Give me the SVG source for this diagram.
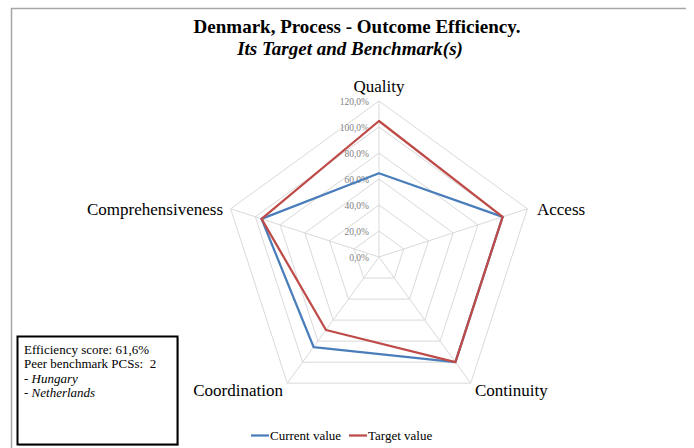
<svg xmlns="http://www.w3.org/2000/svg" width="694" height="448" viewBox="0 0 694 448">
<style>
.t{font-family:"Liberation Serif","Times New Roman",serif;fill:#000}
.grid{fill:none;stroke:#d9d9d9;stroke-width:1}
.tick{font-family:"Liberation Serif","Times New Roman",serif;font-size:9.5px;fill:#7f7f7f;text-anchor:end}
.ax{font-size:17px}
.ser{fill:none;stroke-width:2.25;stroke-linejoin:round}
.cur{stroke:#4a7ebb}
.tar{stroke:#be4b48}
</style>
<rect width="694" height="448" fill="#fff"/>
<path d="M11.5 448 V8.5 H686" fill="none" stroke="#a6a6a6" stroke-width="1.5"/>
<g id="title">
<text class="t" x="357" y="33" font-size="19" font-weight="bold" text-anchor="middle">Denmark, Process - Outcome Efficiency.</text>
<text class="t" x="350" y="55" font-size="19" font-weight="bold" font-style="italic" text-anchor="middle">Its Target and Benchmark(s)</text>
</g>
<g id="grid">
<polygon class="grid" points="379,231 403.73,248.97 394.28,278.03 363.72,278.03 354.27,248.97"/>
<polygon class="grid" points="379,205 428.46,240.93 409.57,299.07 348.43,299.07 329.54,240.93"/>
<polygon class="grid" points="379,179 453.18,232.9 424.85,320.1 333.15,320.1 304.82,232.9"/>
<polygon class="grid" points="379,153 477.91,224.86 440.13,341.14 317.87,341.14 280.09,224.86"/>
<polygon class="grid" points="379,127 502.64,216.83 455.41,362.17 302.59,362.17 255.36,216.83"/>
<polygon class="grid" points="379,101 527.37,208.8 470.7,383.2 287.3,383.2 230.63,208.8"/>
<path class="grid" d="M379 257 L379 101 M379 257 L527.37 208.8 M379 257 L470.7 383.2 M379 257 L287.3 383.2 M379 257 L230.63 208.8"/>
</g>
<g id="ticks">
<text class="tick" x="369" y="105">120,0%</text>
<text class="tick" x="369" y="131">100,0%</text>
<text class="tick" x="369" y="157">80,0%</text>
<text class="tick" x="369" y="183">60,0%</text>
<text class="tick" x="369" y="209">40,0%</text>
<text class="tick" x="369" y="235">20,0%</text>
<text class="tick" x="369" y="261">0,0%</text>
</g>
<g id="axis-labels">
<text id="quality" class="t ax" x="379" y="92" text-anchor="middle">Quality</text>
<text id="access" class="t ax" x="537" y="215">Access</text>
<text id="continuity" class="t ax" x="475" y="396">Continuity</text>
<text id="coordination" class="t ax" x="283" y="396" text-anchor="end">Coordination</text>
<text id="comprehensiveness" class="t ax" x="223" y="215" text-anchor="end">Comprehensiveness</text>
</g>
<g id="series">
<polygon id="current" class="ser cur" points="379,173.3 502.64,216.83 455.41,362.17 313.58,347.04 261.54,218.84"/>
<polygon id="target" class="ser tar" points="379,121 502.64,216.83 455.41,362.17 325.98,329.97 261.54,218.84"/>
</g>
<g id="infobox">
<rect x="19" y="338" width="160" height="108" fill="#bfbfbf"/>
<rect x="17.5" y="336.5" width="160" height="108" fill="#fff" stroke="#000" stroke-width="2"/>
<text class="t" font-size="13" x="24" y="354">Efficiency score: 61,6%</text>
<text class="t" font-size="13" x="24" y="368" xml:space="preserve">Peer benchmark PCSs:  2</text>
<text class="t" font-size="13" x="24" y="383" xml:space="preserve">- <tspan font-style="italic">Hungary</tspan></text>
<text class="t" font-size="13" x="24" y="397" xml:space="preserve">- <tspan font-style="italic">Netherlands</tspan></text>
</g>
<g id="legend">
<line x1="251" y1="435.5" x2="269" y2="435.5" class="cur" stroke-width="2.25"/>
<text class="t" font-size="13" x="270" y="440">Current value</text>
<line x1="349" y1="435.5" x2="367" y2="435.5" class="tar" stroke-width="2.25"/>
<text class="t" font-size="13" x="368" y="440">Target value</text>
</g>
</svg>
